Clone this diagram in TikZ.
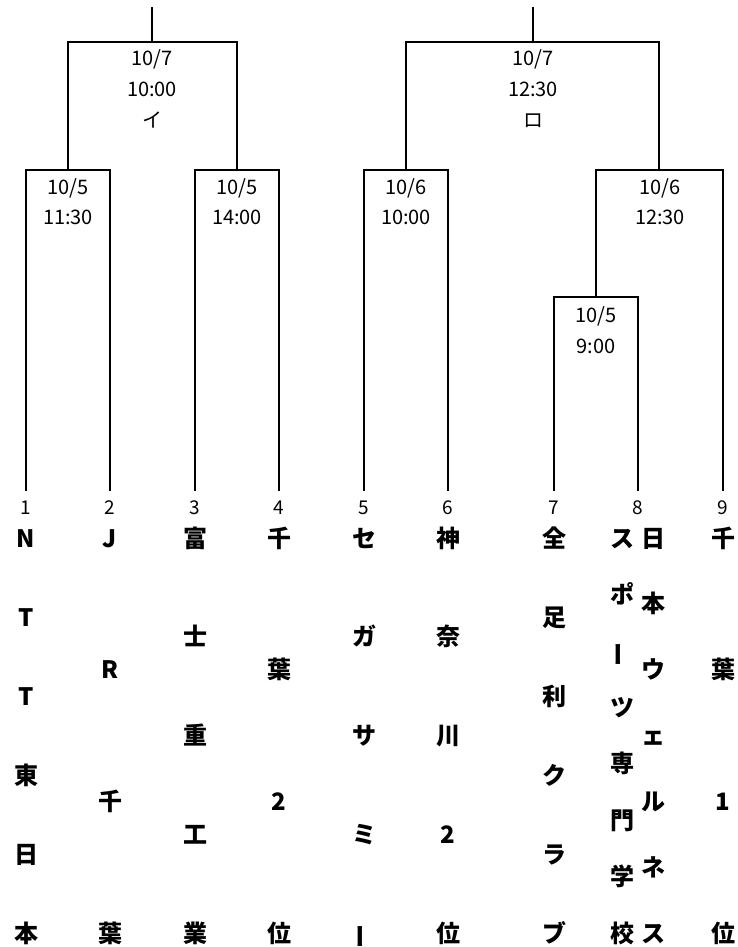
\documentclass[tikz,border=0pt]{standalone}
\usepackage{fontspec}
\usepackage{graphicx}
\setmainfont{Noto Sans CJK JP}
\tikzset{
  line/.style={line width=1.5pt, line cap=rect},
  lbl/.style={font=\fontsize{20}{20}\selectfont, inner sep=0pt, text height=15pt, text depth=0pt},
  num/.style={font=\fontsize{19}{19}\selectfont, inner sep=0pt, text height=14pt, text depth=0pt},
  team/.style={font=\bfseries\fontsize{24}{24}\selectfont, inner sep=0pt, text height=20pt, text depth=2pt}
}
\newcommand{\vbar}{\rotatebox[origin=c]{90}{ー}}
\newcommand{\vname}[4]{%
  \foreach \c [count=\i from 0] in {#3} {
    \node[team] (#4-\i) at (#1, {538 + \i*395/(#2-1)}) {\c};
  }%
}
\begin{document}
\begin{tikzpicture}[x=1pt, y=-1pt]
\useasboundingbox (0,0) rectangle (738,947);
% team line bottoms
\coordinate (t1) at (26,490);
\coordinate (t2) at (110,490);
\coordinate (t3) at (195,490);
\coordinate (t4) at (279,490);
\coordinate (t5) at (364,490);
\coordinate (t6) at (448,490);
\coordinate (t7) at (554,490);
\coordinate (t8) at (638,490);
\coordinate (t9) at (723,490);
% match tops
\coordinate (m1) at (68,170);
\coordinate (m2) at (237,170);
\coordinate (m3) at (406,170);
\coordinate (m4) at (659,170);
\coordinate (m5) at (596,297);
\coordinate (A) at (152,42);
\coordinate (B) at (533,42);
\coordinate (Atop) at (152,8);
\coordinate (Btop) at (533,8);
% bracket lines
\draw[line] (t1) |- (m1) -| (t2);
\draw[line] (t3) |- (m2) -| (t4);
\draw[line] (t5) |- (m3) -| (t6);
\draw[line] (t7) |- (m5) -| (t8);
\draw[line] (m5) |- (m4) -| (t9);
\draw[line] (m1) |- (A) -| (m2);
\draw[line] (m3) |- (B) -| (m4);
\draw[line] (A) -- (Atop);
\draw[line] (B) -- (Btop);
% match labels
\node[lbl] (a1) at (152,58) {10/7};
\node[lbl] (a2) at (152,89) {10:00};
\node[lbl] (a3) at (152,120) {イ};
\node[lbl] (b1) at (533,58) {10/7};
\node[lbl] (b2) at (533,89) {12:30};
\node[lbl] (b3) at (533,120) {ロ};
\node[lbl] (c1) at (68,187) {10/5};
\node[lbl] (c2) at (68,217) {11:30};
\node[lbl] (d1) at (237,187) {10/5};
\node[lbl] (d2) at (237,217) {14:00};
\node[lbl] (e1) at (406,187) {10/6};
\node[lbl] (e2) at (406,217) {10:00};
\node[lbl] (f1) at (660,187) {10/6};
\node[lbl] (f2) at (660,217) {12:30};
\node[lbl] (g1) at (596,315) {10/5};
\node[lbl] (g2) at (596,346) {9:00};
% seed numbers
\node[num] (n1) at (26,507) {1};
\node[num] (n2) at (110,507) {2};
\node[num] (n3) at (195,507) {3};
\node[num] (n4) at (279,507) {4};
\node[num] (n5) at (364,507) {5};
\node[num] (n6) at (448,507) {6};
\node[num] (n7) at (554,507) {7};
\node[num] (n8) at (638,507) {8};
\node[num] (n9) at (723,507) {9};
% team names
\vname{26}{6}{N,T,T,東,日,本}{k1}
\vname{110}{4}{J,R,千,葉}{k2}
\vname{195}{5}{富,士,重,工,業}{k3}
\vname{279}{4}{千,葉,2,位}{k4}
\vname{364}{5}{セ,ガ,サ,ミ,\vbar}{k5}
\vname{448}{5}{神,奈,川,2,位}{k6}
\vname{554}{6}{全,足,利,ク,ラ,ブ}{k7}
\vname{622}{8}{ス,ポ,\vbar,ツ,専,門,学,校}{k8a}
\vname{653}{7}{日,本,ウ,ェ,ル,ネ,ス}{k8b}
\vname{723}{4}{千,葉,1,位}{k9}
\end{tikzpicture}
\end{document}
